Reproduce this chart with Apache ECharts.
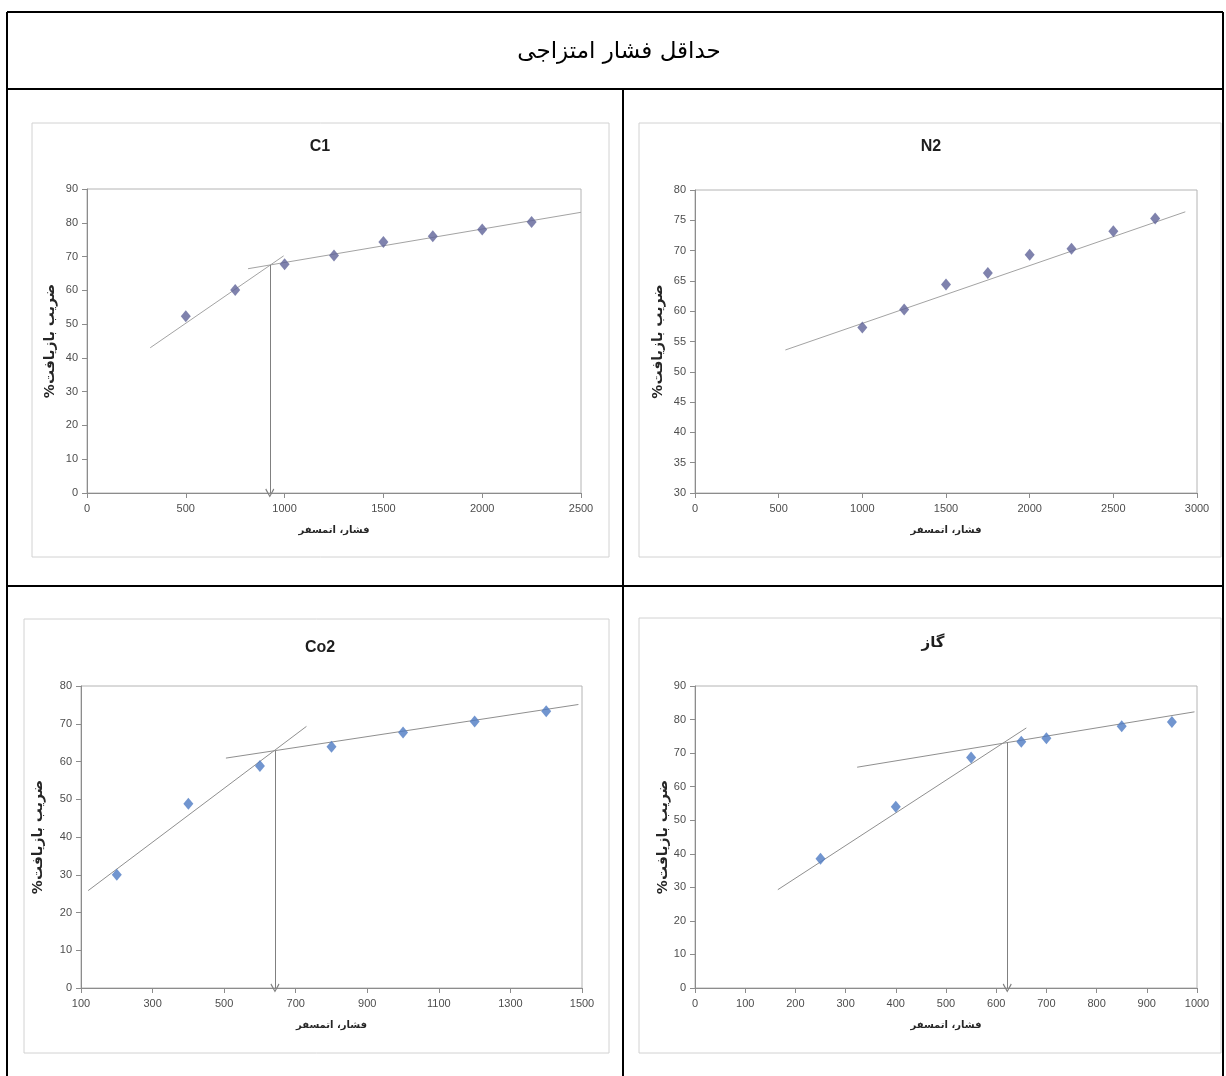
<!DOCTYPE html>
<html lang="fa">
<head>
<meta charset="utf-8">
<title>حداقل فشار امتزاجی</title>
<script src="https://cdn.jsdelivr.net/npm/echarts@6/dist/echarts.min.js"></script>
<style>
html, body { margin: 0; padding: 0; background: #ffffff; }
#chart { width: 1226px; height: 1076px; }
</style>
</head>
<body>
<div id="chart"></div>
<script>
// Recovery factor (%) against injection pressure (atm) for four injected gases.

// C1
const c1Pressure = [500, 750, 1000, 1250, 1500, 1750, 2000, 2250];
const c1Recovery = [52.3, 60.1, 67.7, 70.3, 74.3, 76.0, 78.0, 80.2];
const c1LowFit = [[320, 43.0], [995, 70.2]];
const c1HighFit = [[815, 66.4], [2500, 83.1]];
const c1Mmp = [925, 67.5];

// N2
const n2Pressure = [1000, 1250, 1500, 1750, 2000, 2250, 2500, 2750];
const n2Recovery = [57.3, 60.3, 64.4, 66.3, 69.3, 70.3, 73.2, 75.3];
const n2Fit = [[540, 53.6], [2930, 76.4]];

// Co2
const co2Pressure = [200, 400, 600, 800, 1000, 1200, 1400];
const co2Recovery = [30.0, 48.8, 58.8, 63.9, 67.7, 70.6, 73.3];
const co2LowFit = [[120, 25.8], [730, 69.3]];
const co2HighFit = [[505, 60.9], [1490, 75.1]];
const co2Mmp = [642, 62.8];

// Gas (گاز)
const gasPressure = [250, 400, 550, 650, 700, 850, 950];
const gasRecovery = [38.5, 54.0, 68.7, 73.4, 74.4, 78.0, 79.3];
const gasLowFit = [[165, 29.3], [660, 77.5]];
const gasHighFit = [[323, 65.8], [995, 82.3]];
const gasMmp = [622, 73.2];

// Titles and axis names
const pageTitle = 'حداقل فشار امتزاجی';
const chartTitles = ['C1', 'N2', 'Co2', 'گاز'];
const xAxisName = 'فشار، اتمسفر';
const yAxisName = '\u202Bضریب بازیافت%\u202C';

const NUM_FONT = '"Liberation Sans", Arial, sans-serif';
const FA_FONT = '"DejaVu Sans", sans-serif';

const panels = [
  {
    title: chartTitles[0], pressure: c1Pressure, recovery: c1Recovery,
    fits: [c1LowFit, c1HighFit], mmp: c1Mmp,
    x: { min: 0, max: 2500, interval: 500 }, y: { min: 0, max: 90, interval: 10 },
    grid: { left: 87, top: 189, width: 494, height: 304 },
    frame: { x: 32, y: 123, width: 577, height: 434 },
    titlePos: [320, 147], marker: '#5f6399', fitColor: '#a3a3a3', yGap: 30
  },
  {
    title: chartTitles[1], pressure: n2Pressure, recovery: n2Recovery,
    fits: [n2Fit], mmp: null,
    x: { min: 0, max: 3000, interval: 500 }, y: { min: 30, max: 80, interval: 5 },
    grid: { left: 695, top: 190, width: 502, height: 303 },
    frame: { x: 639, y: 123, width: 582, height: 434 },
    titlePos: [931, 147], marker: '#5f6399', fitColor: '#a3a3a3', yGap: 30
  },
  {
    title: chartTitles[2], pressure: co2Pressure, recovery: co2Recovery,
    fits: [co2LowFit, co2HighFit], mmp: co2Mmp,
    x: { min: 100, max: 1500, interval: 200 }, y: { min: 0, max: 80, interval: 10 },
    grid: { left: 81, top: 686, width: 501, height: 302 },
    frame: { x: 24, y: 619, width: 585, height: 434 },
    titlePos: [320, 648], marker: '#4e7ac3', fitColor: '#8f8f8f', yGap: 36
  },
  {
    title: chartTitles[3], pressure: gasPressure, recovery: gasRecovery,
    fits: [gasLowFit, gasHighFit], mmp: gasMmp,
    x: { min: 0, max: 1000, interval: 100 }, y: { min: 0, max: 90, interval: 10 },
    grid: { left: 695, top: 686, width: 502, height: 302 },
    frame: { x: 639, y: 618, width: 582, height: 435 },
    titlePos: [933, 643], marker: '#4e7ac3', fitColor: '#8f8f8f', yGap: 25
  }
];

// Open "V" arrow head, pointing up before ECharts rotates it along the line
const arrowHead = 'path://M5,0 L10,9 L9,10 L5,2.4 L1,10 L0,9 Z';

const plainNumber = v => String(v);

const grids = [], xAxes = [], yAxes = [], series = [], graphics = [];

panels.forEach((p, i) => {
  grids.push(Object.assign({
    show: true, borderColor: '#b4b4b4', borderWidth: 1, backgroundColor: 'transparent',
    containLabel: false
  }, p.grid));

  xAxes.push({
    type: 'value', gridIndex: i, min: p.x.min, max: p.x.max, interval: p.x.interval,
    name: xAxisName, nameLocation: 'middle', nameGap: 32,
    nameTextStyle: { fontFamily: FA_FONT, fontWeight: 'bold', fontSize: 10, color: '#262626' },
    axisLine: { show: true, onZero: false, lineStyle: { color: '#8c8c8c', width: 1 } },
    axisTick: { show: true, inside: false, length: 5, lineStyle: { color: '#8c8c8c' } },
    axisLabel: { fontFamily: NUM_FONT, fontSize: 11, color: '#4d4d4d', margin: 10, formatter: plainNumber },
    splitLine: { show: false }
  });

  yAxes.push({
    type: 'value', gridIndex: i, min: p.y.min, max: p.y.max, interval: p.y.interval,
    name: yAxisName, nameLocation: 'middle', nameRotate: 90, nameGap: p.yGap,
    nameTextStyle: { fontFamily: FA_FONT, fontWeight: 'bold', fontSize: 14, color: '#262626' },
    axisLine: { show: true, onZero: false, lineStyle: { color: '#8c8c8c', width: 1 } },
    axisTick: { show: true, inside: false, length: 5, lineStyle: { color: '#8c8c8c' } },
    axisLabel: { fontFamily: NUM_FONT, fontSize: 11, color: '#4d4d4d', margin: 9, formatter: plainNumber },
    splitLine: { show: false }
  });

  // trend lines
  p.fits.forEach(fit => {
    series.push({
      type: 'line', xAxisIndex: i, yAxisIndex: i, data: fit,
      showSymbol: false, symbol: 'none', silent: true, z: 2,
      lineStyle: { color: p.fitColor, width: 1 }
    });
  });

  // measured points, with the arrow dropped from the intersection to the pressure axis
  const pointSeries = {
    type: 'scatter', xAxisIndex: i, yAxisIndex: i,
    data: p.pressure.map((x, k) => [x, p.recovery[k]]),
    symbol: 'diamond', symbolSize: [10, 12], z: 3,
    itemStyle: { color: p.marker }
  };
  if (p.mmp) {
    pointSeries.markLine = {
      silent: true, animation: false,
      symbol: ['none', arrowHead], symbolSize: 9,
      label: { show: false },
      lineStyle: { color: '#808080', width: 1, type: 'solid' },
      data: [[{ coord: [p.mmp[0], p.mmp[1]] }, { coord: [p.mmp[0], p.y.min] }]]
    };
  }
  series.push(pointSeries);

  // chart area frame and title
  graphics.push({
    type: 'rect', silent: true, z: 0,
    shape: p.frame,
    style: { fill: 'none', stroke: '#d2d2d2', lineWidth: 1 }
  });
  const isLatin = /^[A-Za-z0-9]+$/.test(p.title);
  graphics.push({
    type: 'text', silent: true, z: 5,
    style: {
      text: p.title, x: p.titlePos[0], y: p.titlePos[1],
      fill: '#1e1e1e',
      font: 'bold ' + (isLatin ? '16px ' + NUM_FONT : '15px ' + FA_FONT),
      align: 'center', verticalAlign: 'middle',
      textAlign: 'center', textVerticalAlign: 'middle'
    }
  });
});

// table rules around the four panels
const tableLines = [
  [7, 12, 1223, 12], [7, 89, 1223, 89], [7, 586, 1223, 586],
  [7, 12, 7, 1076], [1223, 12, 1223, 1076], [623, 89, 623, 1076]
];
tableLines.forEach(l => {
  graphics.push({
    type: 'line', silent: true, z: 10,
    shape: { x1: l[0], y1: l[1], x2: l[2], y2: l[3] },
    style: { stroke: '#000000', lineWidth: 2 }
  });
});
graphics.push({
  type: 'text', silent: true, z: 10,
  style: {
    text: pageTitle, x: 619, y: 52, fill: '#000000',
    font: '23px ' + FA_FONT,
    align: 'center', verticalAlign: 'middle',
    textAlign: 'center', textVerticalAlign: 'middle'
  }
});

const chart = echarts.init(document.getElementById('chart'), null, { renderer: 'canvas' });
chart.setOption({
  backgroundColor: '#ffffff',
  animation: false,
  grid: grids,
  xAxis: xAxes,
  yAxis: yAxes,
  series: series,
  graphic: { elements: graphics }
});
</script>
</body>
</html>
